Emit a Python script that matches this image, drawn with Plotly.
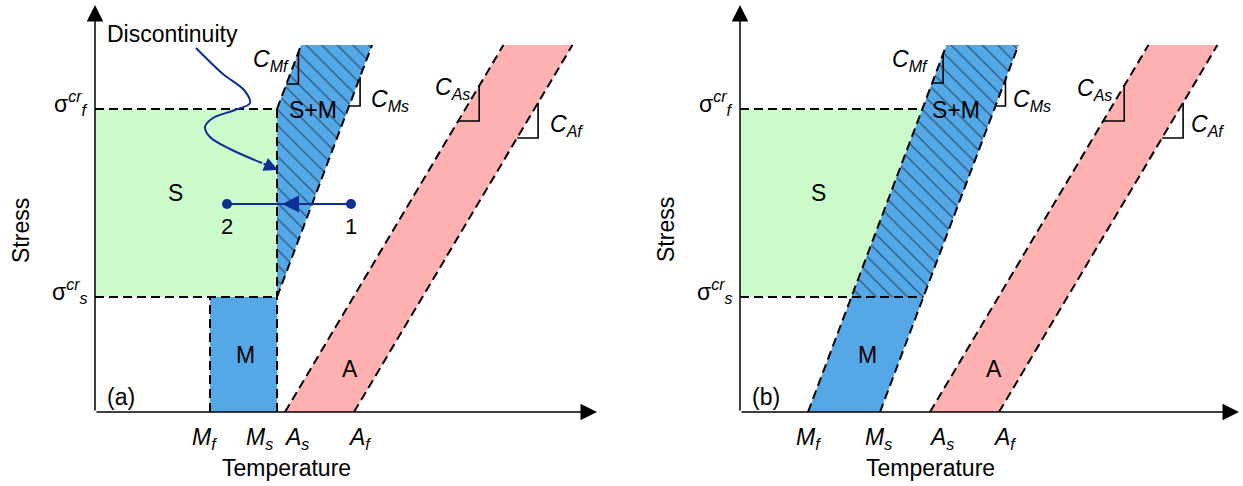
import plotly.graph_objects as go

# ---------------- data (arbitrary temperature / stress units) ----------------
temps_a = [115, 182, 190, 259]        # Mf, Ms, As, Af  panel (a)
temps_b = [68, 140, 190, 259]         # Mf, Ms, As, Af  panel (b)
temp_names = ["M<sub>f</sub>", "M<sub>s</sub>", "A<sub>s</sub>", "A<sub>f</sub>"]
sigma_cr = [115, 303]                 # sigma_cr_s, sigma_cr_f
slope_M = 2.65                        # C_M (stress per temperature)
slope_A = 1.68                        # C_A
stress_top = 367                      # top of the transformation bands
x_max_a, x_max_b, y_max = 502, 499, 407
path_pts_x = [256, 132]               # state 1 -> state 2 temperatures
path_stress = 208
curve_x = [101, 128, 149, 155, 140, 118, 110, 115, 135, 167]
curve_y = [364, 338, 322, 309, 302, 294, 285, 275, 263, 249]

GREEN = "#ccfccc"
BLUE = "#55a8e8"
PINK = "#ffb1b1"
NAVY = "#0d2f94"
FONT = "Liberation Sans, Arial, sans-serif"
FS = 23

W, H = 1243, 486
fig = go.Figure()

def px_dom(x0, length, total):
    return [x0 / total, (x0 + length) / total]

def line_x(x0, slope, y):
    return x0 + y / slope

def add_poly(xs, ys, color, ax, pattern=None):
    kw = {}
    if pattern:
        kw["fillpattern"] = dict(shape="\\", fgcolor="black", bgcolor=color, size=11, solidity=0.11)
    fig.add_trace(go.Scatter(x=xs + [xs[0]], y=ys + [ys[0]], mode="lines", fill="toself",
                             fillcolor=color, line=dict(width=0), hoverinfo="skip",
                             xaxis=ax[0], yaxis=ax[1], **kw))

def add_dash(xs, ys, ax):
    fig.add_trace(go.Scatter(x=xs, y=ys, mode="lines", line=dict(color="black", width=2, dash="9px,5px"),
                             hoverinfo="skip", xaxis=ax[0], yaxis=ax[1]))

def add_solid(xs, ys, ax, color="black", width=1.6):
    fig.add_trace(go.Scatter(x=xs, y=ys, mode="lines", line=dict(color=color, width=width),
                             hoverinfo="skip", xaxis=ax[0], yaxis=ax[1]))

def add_triangle(x0, slope, yb, w, ax):
    xl = line_x(x0, slope, yb)
    add_solid([xl, xl + w, xl + w], [yb, yb, yb + w * slope], ax)

def text(x, y, s, ref, size=FS, xanchor="center", yanchor="middle", color="black",
         xshift=0, yshift=0, **kw):
    fig.add_annotation(x=x, y=y, xref=ref[0], yref=ref[1], text=s, showarrow=False,
                       font=dict(family=FONT, size=size, color=color),
                       xanchor=xanchor, yanchor=yanchor, xshift=xshift, yshift=yshift, **kw)

def arrow(x, y, ax_, ay_, ref, color="black", width=1.5, size=2.2):
    fig.add_annotation(x=x, y=y, ax=ax_, ay=ay_, xref=ref[0], yref=ref[1],
                       axref=ref[0], ayref=ref[1], text="", showarrow=True,
                       arrowhead=2, arrowsize=size, arrowwidth=width, arrowcolor=color, standoff=0)

A = ("x", "y")
B = ("x2", "y2")
ss, sf = sigma_cr

# ---------------- panel (a) ----------------
Mf, Ms, As, Af = temps_a
add_poly([0, Ms, Ms, 0], [ss, ss, sf, sf], GREEN, A)
add_poly([Mf, Ms, Ms, Mf], [0, 0, ss, ss], BLUE, A)
add_poly([Ms, Ms, line_x(Ms, slope_M, stress_top - sf), line_x(Ms, slope_M, stress_top - ss)],
         [ss, sf, stress_top, stress_top], BLUE, A, pattern=True)
add_poly([As, Af, line_x(Af, slope_A, stress_top), line_x(As, slope_A, stress_top)],
         [0, 0, stress_top, stress_top], PINK, A)
add_dash([0, Ms], [sf, sf], A)
add_dash([0, Ms], [ss, ss], A)
add_dash([Mf, Mf], [0, ss], A)
add_dash([Ms, Ms], [0, sf], A)
add_dash([Ms, line_x(Ms, slope_M, stress_top - sf)], [sf, stress_top], A)
add_dash([Ms, line_x(Ms, slope_M, stress_top - ss)], [ss, stress_top], A)
add_dash([As, line_x(As, slope_A, stress_top)], [0, stress_top], A)
add_dash([Af, line_x(Af, slope_A, stress_top)], [0, stress_top], A)
# slope triangles (a)
add_triangle(Ms - sf / slope_M, slope_M, 328, 12, A)
add_triangle(Ms - ss / slope_M, slope_M, 306, 11, A)
add_triangle(As, slope_A, 291, 21, A)
add_triangle(Af, slope_A, 274, 21, A)
# discontinuity curve and path 1 -> 2
fig.add_trace(go.Scatter(x=curve_x, y=curve_y, mode="lines", line=dict(color=NAVY, width=2, shape="spline"),
                         hoverinfo="skip", xaxis="x", yaxis="y"))
arrow(Ms + 1, 242, curve_x[-1], curve_y[-1], A, color=NAVY, width=2, size=1.4)
fig.add_trace(go.Scatter(x=path_pts_x, y=[path_stress] * 2, mode="lines+markers",
                         line=dict(color=NAVY, width=2), marker=dict(color=NAVY, size=10),
                         hoverinfo="skip", xaxis="x", yaxis="y"))
arrow(187, path_stress, 215, path_stress, A, color=NAVY, width=2, size=1.7)
text(path_pts_x[0], path_stress - 22, "1", A, size=22)
text(path_pts_x[1], path_stress - 22, "2", A, size=22)
text(77, 378, "Discontinuity", A)

# ---------------- panel (b) ----------------
Mf, Ms, As, Af = temps_b
add_poly([0, line_x(Mf, slope_M, ss), line_x(Mf, slope_M, sf), 0], [ss, ss, sf, sf], GREEN, B)
add_poly([Mf, Ms, line_x(Ms, slope_M, ss), line_x(Mf, slope_M, ss)], [0, 0, ss, ss], BLUE, B)
add_poly([line_x(Mf, slope_M, ss), line_x(Ms, slope_M, ss), line_x(Ms, slope_M, stress_top),
          line_x(Mf, slope_M, stress_top)], [ss, ss, stress_top, stress_top], BLUE, B, pattern=True)
add_poly([As, Af, line_x(Af, slope_A, stress_top), line_x(As, slope_A, stress_top)],
         [0, 0, stress_top, stress_top], PINK, B)
add_dash([0, line_x(Mf, slope_M, sf)], [sf, sf], B)
add_dash([0, line_x(Ms, slope_M, ss)], [ss, ss], B)
for t0, sl in [(Mf, slope_M), (Ms, slope_M), (As, slope_A), (Af, slope_A)]:
    add_dash([t0, line_x(t0, sl, stress_top)], [0, stress_top], B)
add_triangle(Mf, slope_M, 329, 11, B)
add_triangle(Ms, slope_M, 306, 10, B)
add_triangle(As, slope_A, 291, 21, B)
add_triangle(Af, slope_A, 274, 21, B)

# ---------------- shared labels ----------------
panels = [
    (A, temps_a, "(a)", [(80, 219), (150, 57), (255, 43), (218, 302)], [-6, -18, 11, 5],
     [(196, 352), (274, 312), (377, 324), (453, 287)], 191),
    (B, temps_b, "(b)", [(78, 219), (127, 57), (254, 43), (216, 302)], [0, -2, 11, 5],
     [(190, 352), (271, 312), (374, 323), (449, 287)], 190),
]
for ref, temps, tag, regions, shifts, clab, temp_x in panels:
    xmax = x_max_a if ref == A else x_max_b
    arrow(xmax, 0, 0, 0, ref, size=2.2, width=1.5)
    arrow(0, y_max, 0, 0, ref, size=2.2, width=1.5)
    for t, nm, sh in zip(temps, temp_names, shifts):
        text(t, 0, "<i>" + nm + "</i>", ref, xshift=sh, yshift=-26)
    text(temp_x, 0, "Temperature", ref, yshift=-56)
    text(0, 182, "Stress", ref, textangle=-90, xshift=-74)
    text(0, sf + 6, "σ<sup><i>cr</i></sup><sub><i>f</i></sub>", ref, xanchor="right", xshift=-5)
    text(0, ss + 6, "σ<sup><i>cr</i></sup><sub><i>s</i></sub>", ref, xanchor="right", xshift=-5)
    text(26, 15, tag, ref)
    for (x, y), s in zip(regions, ["S", "M", "A", "S+M"]):
        text(x, y, s, ref)
    for (x, y), s, anc in zip(clab, ["C<sub>Mf</sub>", "C<sub>Ms</sub>", "C<sub>As</sub>", "C<sub>Af</sub>"],
                              ["right", "left", "right", "left"]):
        text(x, y, "<i>" + s + "</i>", ref, xanchor=anc)

ydom = [74 / H, (74 + y_max) / H]
ax_common = dict(visible=False, fixedrange=True, showgrid=False, zeroline=False)
fig.update_layout(
    width=W, height=H, margin=dict(l=0, r=0, t=0, b=0),
    paper_bgcolor="white", plot_bgcolor="white", showlegend=False,
    xaxis=dict(domain=px_dom(95, x_max_a, W), range=[0, x_max_a], anchor="y", **ax_common),
    yaxis=dict(domain=ydom, range=[0, y_max], anchor="x", **ax_common),
    xaxis2=dict(domain=px_dom(740, x_max_b, W), range=[0, x_max_b], anchor="y2", **ax_common),
    yaxis2=dict(domain=ydom, range=[0, y_max], anchor="x2", **ax_common),
)
fig.write_html("out.html", config={"displayModeBar": False, "staticPlot": True},
               post_script="document.body.style.margin='0';document.body.style.overflow='hidden';")
